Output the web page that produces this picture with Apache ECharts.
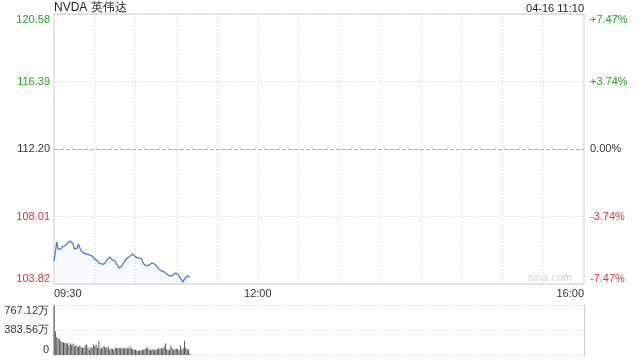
<!DOCTYPE html>
<html>
<head>
<meta charset="utf-8">
<script src="https://cdn.jsdelivr.net/npm/echarts@6/dist/echarts.min.js"></script>
<style>
html,body{margin:0;padding:0;background:#fff;}
#main{width:640px;height:360px;}
</style>
</head>
<body>
<div id="main"></div>
<script>
const titleText = 'NVDA 英伟达';
const stampText = '04-16 11:10';
const prevClose = 112.20;
const pctMin = -7.47;
const pctMax = 7.47;
const pctInterval = 3.735;
const leftTickLabels = ['103.82', '108.01', '112.20', '116.39', '120.58'];
const rightTickLabels = ['-7.47%', '-3.74%', '0.00%', '+3.74%', '+7.47%'];
const volMax = 767.12;
const volInterval = 383.56;
const volTickLabels = ['0', '383.56万', '767.12万'];
const timeTickLabels = ['09:30', '12:00', '16:00'];

// minute prices 09:30 .. 11:10
const prices = [
  105.25, 105.81, 106.43, 105.99, 105.87, 105.99, 106.12, 106.24, 106.18, 106.30,
  106.37, 106.30, 106.49, 106.61, 106.30, 105.99, 105.93, 106.05, 106.30, 106.05,
  105.87, 105.93, 105.74, 105.68, 105.68, 105.56, 105.62, 105.50, 105.56, 105.62,
  105.37, 105.43, 105.25, 105.12, 105.12, 105.06, 105.12, 105.06, 105.12, 105.31,
  105.37, 105.50, 105.43, 105.31, 105.25, 105.25, 105.06, 105.00, 104.81, 104.81,
  104.94, 105.06, 105.25, 105.37, 105.43, 105.50, 105.56, 105.62, 105.68, 105.56,
  105.50, 105.50, 105.43, 105.50, 105.43, 105.25, 105.06, 105.00, 104.94, 104.88,
  105.00, 105.06, 105.12, 105.12, 105.06, 104.94, 104.88, 104.75, 104.69, 104.63,
  104.69, 104.57, 104.63, 104.44, 104.38, 104.32, 104.25, 104.32, 104.44, 104.50,
  104.57, 104.44, 104.32, 104.19, 104.07, 103.94, 104.13, 104.25, 104.32, 104.25,
  104.25
];
// minute volumes, 万
const volumes = [
  760, 360, 275, 254, 250, 211, 200, 190, 183, 175,
  183, 146, 178, 157, 178, 135, 145, 135, 125, 146,
  120, 116, 103, 151, 162, 115, 81, 116, 116, 162,
  135, 162, 111, 211, 103, 103, 125, 130, 115, 108,
  130, 81, 103, 95, 81, 111, 111, 100, 111, 98,
  111, 105, 111, 95, 108, 103, 135, 100, 92, 85,
  81, 70, 60, 75, 65, 80, 85, 92, 116, 103,
  85, 71, 80, 87, 71, 80, 92, 103, 92, 108,
  95, 125, 178, 92, 71, 85, 146, 108, 81, 90,
  98, 92, 71, 146, 81, 105, 215, 108, 92, 81,
  20
];

// minute categories 09:30 .. 16:00
const times = [];
for (let m = 9 * 60 + 30; m <= 16 * 60; m++) {
  const h = Math.floor(m / 60), mm = m % 60;
  times.push(String(h).padStart(2, '0') + ':' + String(mm).padStart(2, '0'));
}
const pctData = prices.map(p => (p / prevClose - 1) * 100);

const green = '#1fa51f', red = '#ee2e2e', dark = '#333';
const labelColor = (i) => i < 2 ? red : (i === 2 ? dark : green);

const chart = echarts.init(document.getElementById('main'));
chart.setOption({
  animation: false,
  textStyle: { fontFamily: 'Arial, "Liberation Sans", sans-serif' },
  title: [
    { text: titleText, left: 54, top: 2, padding: 0, textStyle: { fontSize: 12, fontWeight: 'normal', color: '#222' } },
    { text: stampText, right: 56, top: 3, padding: 0, textStyle: { fontSize: 11, fontWeight: 'normal', color: '#222' } }
  ],
  grid: [
    { left: 54, right: 56, top: 14, height: 270, show: true, borderColor: '#ccc', borderWidth: 1, backgroundColor: 'transparent' },
    { left: 54, right: 56, top: 305, height: 50 }
  ],
  xAxis: [
    {
      type: 'category', gridIndex: 0, data: times, boundaryGap: false,
      axisLine: { show: false }, axisTick: { show: false },
      axisLabel: {
        fontSize: 11, color: dark, margin: 4,
        interval: (i, v) => timeTickLabels.indexOf(v) >= 0,
        alignMinLabel: 'left', alignMaxLabel: 'right'
      },
      splitLine: {
        show: true, interval: (i) => i % 30 === 0 && i > 0 && i < times.length - 1,
        lineStyle: { color: '#d4d4d4', type: [1, 2], width: 1 }
      }
    },
    {
      type: 'category', gridIndex: 1, data: times, boundaryGap: false,
      axisLine: { show: false }, axisTick: { show: false }, axisLabel: { show: false },
      splitLine: { show: false }
    }
  ],
  yAxis: [
    {
      type: 'value', gridIndex: 0, position: 'left', min: pctMin, max: pctMax, interval: pctInterval,
      axisLine: { show: false }, axisTick: { show: false },
      axisLabel: {
        fontSize: 11, margin: 4,
        formatter: (v, i) => leftTickLabels[i],
        color: (v, i) => labelColor(i),
        verticalAlignMinLabel: 'bottom', verticalAlignMaxLabel: 'top'
      },
      splitLine: { show: true, lineStyle: { color: '#d4d4d4', type: [1, 2] } }
    },
    {
      type: 'value', gridIndex: 0, position: 'right', min: pctMin, max: pctMax, interval: pctInterval,
      axisLine: { show: false }, axisTick: { show: false },
      axisLabel: {
        fontSize: 11, margin: 6,
        formatter: (v, i) => rightTickLabels[i],
        color: (v, i) => labelColor(i),
        verticalAlignMinLabel: 'bottom', verticalAlignMaxLabel: 'top'
      },
      splitLine: { show: false }
    },
    {
      type: 'value', gridIndex: 1, position: 'left', min: 0, max: volMax, interval: volInterval,
      axisLine: { show: true, lineStyle: { color: '#bbb' } }, axisTick: { show: false },
      axisLabel: {
        fontSize: 11, margin: 5, color: dark,
        formatter: (v, i) => volTickLabels[i],
        verticalAlignMinLabel: 'bottom', verticalAlignMaxLabel: 'top'
      },
      splitLine: { show: true, lineStyle: { color: '#ccc', type: [1, 2] } }
    },
    {
      type: 'value', gridIndex: 1, position: 'right', min: 0, max: volMax, interval: volInterval,
      axisLine: { show: true, lineStyle: { color: '#ccc' } }, axisTick: { show: false },
      axisLabel: { show: false }, splitLine: { show: false }
    }
  ],
  graphic: [
    { type: 'text', right: 68, top: 272, style: { text: 'sina.com', fill: '#d2d2d2', font: '11px Arial, "Liberation Sans", sans-serif' } }
  ],
  series: [
    {
      type: 'line', xAxisIndex: 0, yAxisIndex: 0, data: pctData,
      showSymbol: false, symbol: 'none',
      lineStyle: { color: '#4a7bd3', width: 1.3 },
      areaStyle: { color: 'rgba(74,123,211,0.05)', origin: 'start' },
      markLine: {
        silent: true, symbol: 'none', label: { show: false },
        lineStyle: { color: '#aaa', type: [4, 2], width: 1 },
        data: [{ yAxis: 0 }]
      }
    },
    {
      type: 'bar', xAxisIndex: 1, yAxisIndex: 2, data: volumes,
      barWidth: 1, itemStyle: { color: '#555' }
    }
  ]
});
</script>
</body>
</html>
